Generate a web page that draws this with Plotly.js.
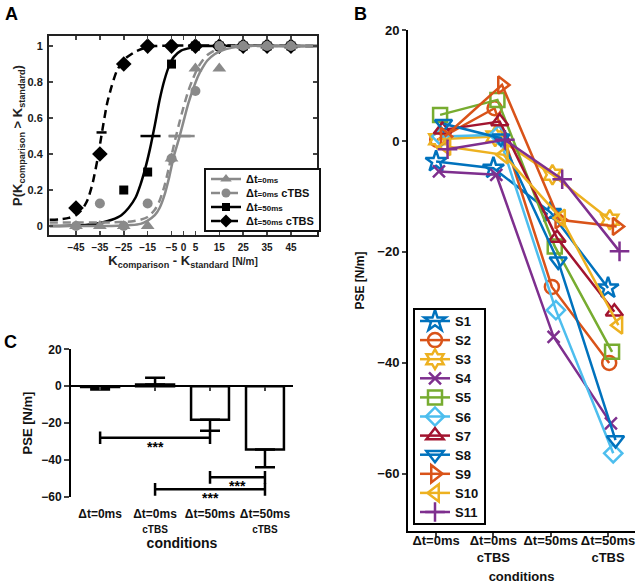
<!DOCTYPE html>
<html><head><meta charset="utf-8">
<script src="https://cdn.plot.ly/plotly-3.0.1.min.js"></script>
<style>html,body{margin:0;padding:0;background:#fff}#chart{width:640px;height:587px}</style>
</head><body><div id="chart"></div>
<script>
// ---------- Panel A: psychometric data ----------
const stimX = [-45,-35,-25,-15,-5,5,15,25,35,45];
const pT0   = [0,0,0,0,0.375,0.875,0.875,1,1,1];
const pT0c  = [0,0.125,0,0.125,0.375,0.75,1,1,1,1];
const pT50  = [null,null,0.2,0.3,0.9,1,1,1,1,1];
const pT50c = [0.1,0.4,0.9,1,1,1,1,1,1,1];
const tickA = [-45,-35,-25,-15,-5,0,5,15,25,35,45];

// fitted curves
const fit50cX = [-56,-52,-48,-45,-42,-40,-38,-36,-34,-32,-30,-28,-26,-24,-20,-16,-12,56];
const fit50cY = [0.035,0.037,0.045,0.06,0.1,0.15,0.24,0.37,0.53,0.68,0.78,0.86,0.905,0.935,0.97,0.99,1,1];
const fit50X  = [-56,-45,-38,-34,-30,-26,-23,-20,-18,-16,-14,-12,-10,-8,-6,-4,-1,3,8,56];
const fit50Y  = [0,0.003,0.01,0.02,0.035,0.06,0.1,0.16,0.23,0.32,0.43,0.56,0.7,0.81,0.89,0.94,0.975,0.99,1,1];
const fit0X   = [-56,-30,-22,-18,-15,-12,-10,-8,-6,-4,-2,0,2,4,6,8,10,13,16,20,25,56];
const fit0Y   = [0,0,0.005,0.012,0.03,0.06,0.1,0.17,0.27,0.39,0.48,0.58,0.68,0.76,0.83,0.88,0.92,0.955,0.975,0.99,1,1];
const fit0cY  = [0.02,0.02,0.025,0.035,0.05,0.09,0.14,0.22,0.33,0.45,0.56,0.66,0.75,0.82,0.88,0.92,0.95,0.975,0.99,1,1,1];

// PSE markers (centre, level, half-width)
const pseX  = [-34.3,-13.8,-0.8,-1.5];
const pseY  = [0.52,0.5,0.5,0.5];
const pseCI = [2.1,4.2,5.5,4.5];
const pseCol = ['#000','#000','#8a8a8a','#8a8a8a'];

// ---------- Panel B: individual PSE ----------
const condLabelsB = ['Δt=0ms','Δt=0ms<br>cTBS','Δt=50ms','Δt=50ms<br>cTBS'];
const subjects = ['S1','S2','S3','S4','S5','S6','S7','S8','S9','S10','S11'];
const S1  = [-3.7,-4.9,-12.9,-26.5];
const S2  = [0.2,5.9,-26.3,-40];
const S3  = [0.3,0.8,-6.1,-14.2];
const S4  = [-5.5,-6.1,-35.3,-50.9];
const S5  = [4.7,7.4,-19,-38];
const S6  = [0.8,1.1,-30.5,-56.3];
const S7  = [2.0,3.5,-17.5,-30.8];
const S8  = [3.1,0.5,-21.7,-53.9];
const S9  = [0.8,10.1,-14.2,-15.4];
const S10 = [-1.0,-2.5,-13.9,-33.2];
const S11 = [-1.5,0.2,-6.9,-19.9];
const subjectPSE = [S1,S2,S3,S4,S5,S6,S7,S8,S9,S10,S11];
const subjectJitter = [0,0.02,0.03,0.05,0.07,0.09,0.11,0.13,0.15,0.18,0.2];

// ---------- Panel C: group means ----------
const condLabelsC = ['Δt=0ms','Δt=0ms<br><span style="font-size:10px">cTBS</span>','Δt=50ms','Δt=50ms<br><span style="font-size:10px">cTBS</span>'];
const meanPSE  = [-0.4,0.9,-18.2,-34.4];
const errPlus  = [0,3.6,0,0];
const errMinus = [1.4,0,6,9.6];
const sigPairs = [[1,3,-28],[3,4,-49.5],[2,4,-56]];
const sigText  = ['***','***','***'];

// ---------- styling ----------
const FF = 'Liberation Sans, Arial, sans-serif';
const GRAY = '#8a8a8a';
const W = 640, H = 587;
const dx = (a,b)=>[a/W,b/W];
const dy = (top,bot)=>[1-bot/H,1-top/H];
const catPos = [1,2,3,4];

const colors = ['#0072BD','#D95319','#EDB120','#7E2F8E','#77AC30','#4DBEEE','#A2142F','#0072BD','#D95319','#EDB120','#7E2F8E'];
const symbols = ['star-open','circle-open','hexagram-open','x-thin-open','square-open','diamond-open','triangle-up-open','triangle-down-open','triangle-right-open','triangle-left-open','cross-thin-open'];
const sizes = [16,14,15,12,14,14,15,15,15,15,14];

const traces = [];
// Panel A curves (black first, gray on top)
traces.push({x:fit50cX,y:fit50cY,mode:'lines',line:{color:'#000',width:2.5,dash:'8px,5px',shape:'spline',smoothing:0.6},showlegend:false,xaxis:'x',yaxis:'y',hoverinfo:'skip'});
traces.push({x:fit50X,y:fit50Y,mode:'lines',line:{color:'#000',width:2.5,shape:'spline',smoothing:0.6},showlegend:false,xaxis:'x',yaxis:'y',hoverinfo:'skip'});
traces.push({x:stimX,y:pT50c,mode:'markers',marker:{symbol:'diamond',size:12,color:'#000'},showlegend:false,xaxis:'x',yaxis:'y'});
traces.push({x:stimX,y:pT50,mode:'markers',marker:{symbol:'square',size:9,color:'#000'},showlegend:false,xaxis:'x',yaxis:'y'});
traces.push({x:fit0X,y:fit0cY,mode:'lines',line:{color:GRAY,width:2.5,dash:'8px,5px',shape:'spline',smoothing:0.6},showlegend:false,xaxis:'x',yaxis:'y',hoverinfo:'skip'});
traces.push({x:fit0X,y:fit0Y,mode:'lines',line:{color:GRAY,width:2.5,shape:'spline',smoothing:0.6},showlegend:false,xaxis:'x',yaxis:'y',hoverinfo:'skip'});
traces.push({x:stimX,y:pT0c,mode:'markers',marker:{symbol:'circle',size:10,color:GRAY},showlegend:false,xaxis:'x',yaxis:'y'});
traces.push({x:stimX,y:pT0,mode:'markers',marker:{symbol:'triangle-up',size:12,color:GRAY},showlegend:false,xaxis:'x',yaxis:'y'});
// PSE dashes
pseX.forEach((v,i)=>{
  traces.push({x:[v],y:[pseY[i]],mode:'markers',marker:{size:1,color:pseCol[i],opacity:0},
    error_x:{type:'data',array:[pseCI[i]],color:pseCol[i],thickness:2.5,width:0},
    showlegend:false,xaxis:'x',yaxis:'y',hoverinfo:'skip'});
});
// Panel A legend entries
const legA = [
  ['Δt<span style="font-size:8px">=0ms</span>',GRAY,'solid','triangle-up',10],
  ['Δt<span style="font-size:8px">=0ms</span> cTBS',GRAY,'dash','circle',9],
  ['Δt<span style="font-size:8px">=50ms</span>','#000','solid','square',8],
  ['Δt<span style="font-size:8px">=50ms</span> cTBS','#000','dash','diamond',10]
];
legA.forEach(l=>{
  traces.push({x:[null],y:[null],mode:'lines+markers',name:l[0],line:{color:l[1],width:2.5,dash:l[2]},
    marker:{symbol:l[3],size:l[4],color:l[1]},legend:'legend',xaxis:'x',yaxis:'y'});
});

// Panel B
subjects.forEach((s,i)=>{
  traces.push({
    x:catPos.map(c=>c+subjectJitter[i]), y:subjectPSE[i], name:s,
    mode:'lines+markers', line:{color:colors[i],width:2.5},
    marker:{symbol:symbols[i],size:sizes[i],color:colors[i],line:{color:colors[i],width:2.5}},
    legend:'legend2', xaxis:'x2', yaxis:'y2'
  });
});
// invisible trace carrying the label-only axis of panel B
traces.push({x:catPos,y:catPos.map(()=>null),mode:'markers',showlegend:false,xaxis:'x6',yaxis:'y2',hoverinfo:'skip'});

// Panel C bars
traces.push({type:'bar',x:catPos,y:meanPSE,width:0.69,
  marker:{color:'#fff',line:{color:'#000',width:2.5}},
  error_y:{type:'data',symmetric:false,array:errPlus,arrayminus:errMinus,color:'#000',thickness:2.5,width:10},
  showlegend:false,xaxis:'x3',yaxis:'y3',hoverinfo:'skip'});
// significance brackets
sigPairs.forEach(p=>{
  traces.push({x:[p[0],p[1]],y:[p[2],p[2]],mode:'lines+markers',line:{color:'#000',width:2.5},
    marker:{symbol:'line-ns',size:9,line:{color:'#000',width:2.5}},showlegend:false,xaxis:'x4',yaxis:'y3',hoverinfo:'skip'});
});

const annotations = [
  {text:'<b>A</b>',x:3/W,y:1-2/H,xref:'paper',yref:'paper',xanchor:'left',yanchor:'top',showarrow:false,font:{size:18,color:'#000'}},
  {text:'<b>B</b>',x:352/W,y:1-2/H,xref:'paper',yref:'paper',xanchor:'left',yanchor:'top',showarrow:false,font:{size:18,color:'#000'}},
  {text:'<b>C</b>',x:2/W,y:1-330/H,xref:'paper',yref:'paper',xanchor:'left',yanchor:'top',showarrow:false,font:{size:18,color:'#000'}}
];
sigPairs.forEach((p,i)=>{
  annotations.push({text:sigText[i],x:(p[0]+p[1])/2,y:p[2],xref:'x3',yref:'y3',xanchor:'center',yanchor:'top',yshift:1,
    showarrow:false,font:{size:14,color:'#000',weight:'bold'}});
});

const axFont = {family:FF,size:10,color:'#1a1a1a',weight:'bold'};
const C_ZERO_POS = (()=>{const d=dy(349.3,496.7);return d[0]+(0-(-60))/80*(d[1]-d[0]);})();

const layout = {
  width:W,height:H,margin:{l:0,r:0,t:0,b:0},paper_bgcolor:'#fff',plot_bgcolor:'rgba(0,0,0,0)',
  font:{family:FF,size:12,color:'#111',weight:'bold'},
  showlegend:true,
  xaxis:{domain:dx(49,317),anchor:'y',range:[-56.3,55.9],tickvals:tickA,ticks:'inside',ticklen:4,tickwidth:1.5,tickangle:0,
    showline:true,mirror:'ticks',linewidth:2,linecolor:'#222',showgrid:false,zeroline:false,tickfont:axFont,ticklabelstandoff:2,
    title:{text:'K<sub>comparison</sub> - K<sub>standard</sub> <span style="font-size:10px">[N/m]</span>',font:{family:FF,size:13,color:'#222',weight:'bold'},standoff:4}},
  yaxis:{domain:dy(36,235),anchor:'x',range:[-0.05,1.056],tickvals:[0,0.2,0.4,0.6,0.8,1],ticktext:['0','0.2','0.4','0.6','0.8','1'],
    ticks:'inside',ticklen:4,tickwidth:1.5,showline:true,mirror:'ticks',linewidth:2,linecolor:'#222',showgrid:false,zeroline:false,
    tickfont:{family:FF,size:11,color:'#1a1a1a',weight:'bold'},ticklabelstandoff:2,
    title:{text:'P(K<sub>comparison</sub> &gt; K<sub>standard</sub>)',font:{family:FF,size:13,color:'#222',weight:'bold'},standoff:2}},
  xaxis2:{domain:dx(408,635),anchor:'y2',range:[0.51,4.47],tickvals:catPos,ticks:'outside',ticklen:4,tickwidth:2,showticklabels:false,
    showline:true,linewidth:2,linecolor:'#000',showgrid:false,zeroline:false},
  xaxis6:{overlaying:'x2',anchor:'free',position:1-531/H,range:[0.51,4.47],tickvals:catPos,ticktext:condLabelsB,ticks:'',tickangle:0,
    showline:false,showgrid:false,zeroline:false,tickfont:{family:FF,size:13,color:'#111',weight:'bold'},
    title:{text:'conditions',font:{family:FF,size:13,color:'#111',weight:'bold'},standoff:7}},
  yaxis2:{domain:dy(30,531),anchor:'x2',range:[-70.3,20],tickvals:[20,0,-20,-40,-60],ticks:'outside',ticklen:4,tickwidth:2,
    showline:true,linewidth:2,linecolor:'#000',showgrid:false,zeroline:false,tickfont:{family:FF,size:13,color:'#111',weight:'bold'},
    title:{text:'PSE [N/m]',font:{family:FF,size:12,color:'#111',weight:'bold'},standoff:10}},
  xaxis3:{domain:dx(71,293),anchor:'y3',range:[0.47,4.51],tickvals:catPos,ticktext:condLabelsC,ticks:'',showline:false,tickangle:0,
    showgrid:false,zeroline:false,tickfont:{family:FF,size:12,color:'#111',weight:'bold'},ticklabelstandoff:8,
    title:{text:'conditions',font:{family:FF,size:14,color:'#111',weight:'bold'},standoff:2}},
  xaxis4:{overlaying:'x3',anchor:'free',position:C_ZERO_POS,range:[0.47,4.51],tickvals:catPos,ticks:'outside',ticklen:4,tickwidth:2,
    showticklabels:false,showline:false,showgrid:false,zeroline:false},
  yaxis3:{domain:dy(349.3,496.7),anchor:'x3',range:[-60,20],tickvals:[20,0,-20,-40,-60],ticks:'outside',ticklen:5,tickwidth:2,
    showline:true,linewidth:2,linecolor:'#000',showgrid:false,zeroline:true,zerolinecolor:'#000',zerolinewidth:2.5,
    tickfont:{family:FF,size:12,color:'#111',weight:'bold'},
    title:{text:'PSE [N/m]',font:{family:FF,size:13,color:'#111',weight:'bold'},standoff:6}},
  legend:{x:204/W,y:1-168/H,xanchor:'left',yanchor:'top',bordercolor:'#111',borderwidth:2,bgcolor:'#fff',
    font:{family:FF,size:11,color:'#111',weight:'bold'},tracegroupgap:0},
  legend2:{x:413/W,y:1-308/H,xanchor:'left',yanchor:'top',bordercolor:'#000',borderwidth:2,bgcolor:'#fff',
    font:{family:FF,size:13,color:'#111',weight:'bold'},tracegroupgap:0},
  annotations:annotations
};

// set the vertical spacing of a legend's entries (Plotly has no item-height option)
function tightenLegend(gd, cls, firstY, step, bottomPad){
  const g = gd.querySelector('g.' + cls);
  if(!g) return;
  const items = Array.from(g.querySelectorAll('g.traces'));
  if(items.length < 2) return;
  const parse = t => { const m = /translate\(\s*([-\d.e]+)[ ,]+([-\d.e]+)\s*\)/.exec(t || ''); return m ? [+m[1], +m[2]] : null; };
  items.forEach((it,i)=>{
    const p = parse(it.getAttribute('transform'));
    if(p) it.setAttribute('transform', 'translate(' + p[0] + ',' + (firstY + i*step) + ')');
  });
  const h = firstY + (items.length - 1)*step + bottomPad;
  g.querySelectorAll('rect.bg, rect.scrollbox-bg').forEach(r=>r.setAttribute('height', h));
}

Plotly.newPlot('chart',traces,layout,{displayModeBar:false,staticPlot:true}).then(gd=>{
  tightenLegend(gd,'legend',11,14,9);
  tightenLegend(gd,'legend2',13,19.1,11);
});
</script></body></html>
